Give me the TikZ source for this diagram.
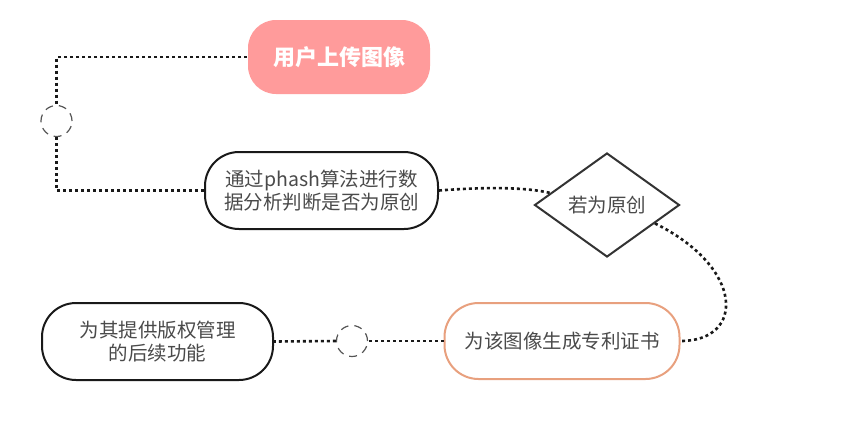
\documentclass[tikz,border=0pt]{standalone}
\usepackage{fontspec}
\setmainfont{Noto Sans CJK SC}
\usetikzlibrary{shapes.geometric}
\definecolor{pinkfill}{HTML}{FF9B9B}
\definecolor{orangeline}{HTML}{E8A07E}
\definecolor{txtgray}{HTML}{4A4A4A}
\definecolor{dgray}{HTML}{333333}
\definecolor{cgray}{HTML}{555555}
\tikzset{
  stadium/.style={draw=black!90, line width=2pt, rounded corners=34pt, align=center,
    text=txtgray, inner sep=0pt, font=\fontsize{19.5}{23.5}\selectfont},
  dotline/.style={line width=2.6pt, dash pattern=on 3pt off 3pt, black!90},
  ringnode/.style={circle, draw=cgray, line width=1.2pt, dash pattern=on 8pt off 6pt,
    minimum size=31pt, inner sep=0pt},
}
\begin{document}
\begin{tikzpicture}[x=1pt,y=-1pt]
\useasboundingbox (0,0) rectangle (849,421);
\node[stadium, draw=none, fill=pinkfill, rounded corners=28pt, text=white,
  minimum width=182pt, minimum height=74pt, font=\fontsize{22}{26}\selectfont\bfseries]
  (up) at (339,57) {用户上传图像};
\node[stadium, minimum width=233pt, minimum height=77pt] (ana) at (321.5,190.5)
  {通过phash算法进行数\\据分析判断是否为原创};
\node[diamond, draw=dgray, line width=2pt, minimum width=145pt, minimum height=104pt,
  inner sep=0pt, aspect=1.4, text=txtgray, font=\fontsize{19.5}{23.5}\selectfont]
  (dec) at (607,205) {若为原创};
\node[stadium, draw=orangeline, minimum width=235pt, minimum height=76pt] (cert) at (562,341)
  {为该图像生成专利证书};
\node[stadium, minimum width=231pt, minimum height=77pt] (mgmt) at (157.5,341.5)
  {为其提供版权管理\\的后续功能};
\node[ringnode] (r1) at (56.5,121) {};
\node[ringnode] (r2) at (352,341) {};
\draw[dotline] (up.west) -| (r1.north);
\draw[dotline] (r1.south) |- (ana.west);
\draw[dotline] (ana.east) .. controls (485,187) and (525,187) .. (dec.168);
\draw[dotline] (dec.-21) .. controls (745,268) and (745,341) .. (cert.east);
\draw[dotline] (cert.west) -- (r2.east);
\draw[dotline] (r2.west) -- (mgmt.east);
\end{tikzpicture}
\end{document}
